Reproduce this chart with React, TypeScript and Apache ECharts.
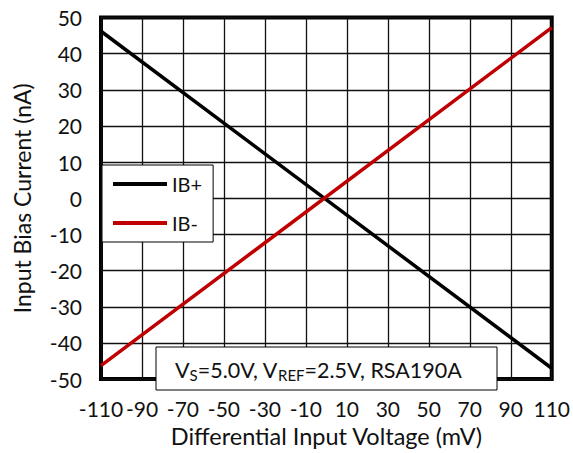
import React, { useEffect, useRef } from "react";
import * as echarts from "echarts";

const voltages = [-110, 110];
const ibPlus = [46.2, -47.0];
const ibMinus = [-46.3, 47.2];
const seriesNames = ["IB+", "IB-"];
const seriesColors = ["#000000", "#C00000"];
const xTitle = "Differential Input Voltage (mV)";
const yTitle = "Input Bias Current (nA)";
const noteText = "V{sub|S}=5.0V, V{sub|REF}=2.5V, RSA190A";

const FONT = "Lato";

export default function App() {
  const ref = useRef<HTMLDivElement>(null);
  useEffect(() => {
    if (!ref.current) return;
    const chart = echarts.init(ref.current, null, { renderer: "svg" });
    const mk = (vals: number[]) => voltages.map((v, i) => [v, vals[i]]);
    chart.setOption({
      animation: false,
      backgroundColor: "#ffffff",
      textStyle: { fontFamily: FONT },
      grid: {
        left: 101,
        right: 20,
        top: 17.5,
        bottom: 62.5,
        show: true,
        borderColor: "#000",
        borderWidth: 4,
        backgroundColor: "transparent",
      },
      xAxis: {
        type: "value",
        min: -110,
        max: 110,
        interval: 20,
        name: xTitle,
        nameLocation: "middle",
        nameGap: 35,
        nameTextStyle: { fontSize: 23.5, color: "#111", fontFamily: FONT },
        axisLine: { show: false },
        axisTick: { show: false },
        axisLabel: { fontSize: 21, color: "#111", margin: 19, fontFamily: FONT },
        splitLine: { show: true, lineStyle: { color: "#111", width: 1.3 } },
      },
      yAxis: {
        type: "value",
        min: -50,
        max: 50,
        interval: 10,
        name: yTitle,
        nameLocation: "middle",
        nameGap: 68,
        nameTextStyle: { fontSize: 23, color: "#111", fontFamily: FONT },
        axisLine: { show: false },
        axisTick: { show: false },
        axisLabel: { fontSize: 21, color: "#111", margin: 19, fontFamily: FONT },
        splitLine: { show: true, lineStyle: { color: "#111", width: 1.3 } },
      },
      legend: {
        orient: "vertical",
        left: 102,
        top: 165,
        padding: [9, 11, 9, 11],
        itemGap: 19,
        itemWidth: 54,
        itemHeight: 4,
        itemTextGap: 5,
        icon: "rect",
        backgroundColor: "#ffffff",
        borderColor: "#000",
        borderWidth: 1,
        textStyle: { fontSize: 20, color: "#111", fontFamily: FONT, lineHeight: 20 },
        data: seriesNames,
        z: 10,
      },
      series: [
        {
          name: seriesNames[0],
          type: "line",
          data: mk(ibPlus),
          symbol: "none",
          lineStyle: { color: seriesColors[0], width: 3.5 },
          itemStyle: { color: seriesColors[0] },
          z: 3,
        },
        {
          name: seriesNames[1],
          type: "line",
          data: mk(ibMinus),
          symbol: "none",
          lineStyle: { color: seriesColors[1], width: 3.5 },
          itemStyle: { color: seriesColors[1] },
          z: 4,
        },
      ],
      graphic: [
        {
          type: "rect",
          z: 100,
          shape: { x: 156, y: 347, width: 341, height: 43 },
          style: { fill: "#ffffff", stroke: "#000", lineWidth: 1 },
        },
        {
          type: "text",
          z: 101,
          x: 175,
          y: 357,
          style: {
            text: noteText,
            fontFamily: FONT,
            fontSize: 21.5,
            fill: "#111",
            lineHeight: 25,
            rich: {
              sub: { fontSize: 15, lineHeight: 15, verticalAlign: "bottom", fontFamily: FONT, fill: "#111" },
            },
          },
        },
      ],
    });
    return () => chart.dispose();
  }, []);
  return (
    <div
      ref={ref}
      style={{ position: "fixed", left: 0, top: 0, width: 573, height: 453 }}
    />
  );
}
